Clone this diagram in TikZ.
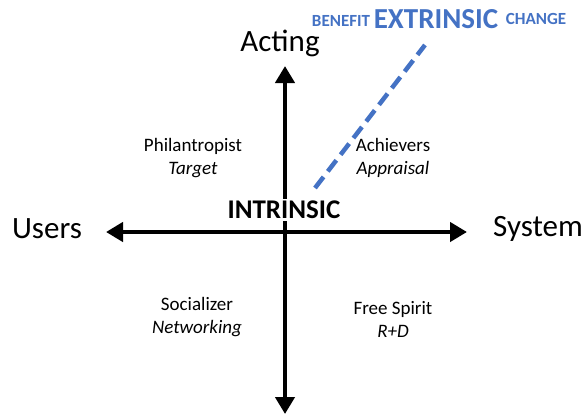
\documentclass[tikz,border=0pt]{standalone}
\usepackage{fontspec}
\setmainfont{Carlito}
\usetikzlibrary{arrows.meta}
\definecolor{extblue}{HTML}{4472C4}
\tikzset{
	axis/.style={line width=4.5pt, -{Triangle[length=17pt,width=19pt]}},
	quad/.style={align=center, font=\fontsize{19}{23}\selectfont},
	side/.style={font=\fontsize{31}{34}\selectfont},
	tag/.style={font=\fontsize{17}{19}\selectfont\bfseries, color=extblue}
}
\begin{document}
	\begin{tikzpicture}[x=1pt,y=-1pt]
		\useasboundingbox (0,0) rectangle (587,416);

		\coordinate (o) at (285,232);
		\coordinate (l) at (106,232);
		\coordinate (r) at (467,232);
		\coordinate (t) at (285,66);
		\coordinate (b) at (285,414);
		\coordinate (ext0) at (315,188);
		\coordinate (ext1) at (425,45);

		\draw[axis] (o) -- (l);
		\draw[axis] (o) -- (r);
		\draw[axis] (o) -- (t);
		\draw[axis] (o) -- (b);
		\draw[color=extblue, line width=4.5pt, dash pattern=on 14pt off 7pt]
			(ext0) -- (ext1);

		\node[side] (acting) at (280,43) {Acting};
		\node[side] (users) at (47,229) {Users};
		\node[side] (system) at (538,229) {System};
		\node[font=\fontsize{27}{30}\selectfont\bfseries, fill=white, inner sep=2pt]
			(intr) at (284,210) {INTRINSIC};
		\node[tag, font=\fontsize{29}{32}\selectfont\bfseries] (extr) at (436,19) {EXTRINSIC};
		\node[tag] (benefit) at (341,21) {BENEFIT};
		\node[tag] (change) at (536,19) {CHANGE};

		\node[quad] (phil) at (193,158) {Philantropist\\ \textit{Target}};
		\node[quad] (achv) at (393,158) {Achievers\\ \textit{Appraisal}};
		\node[quad] (soc) at (197,317) {Socializer\\ \textit{Networking}};
		\node[quad] (free) at (393,319) {Free Spirit\\ \textit{R+D}};
	\end{tikzpicture}
\end{document}
